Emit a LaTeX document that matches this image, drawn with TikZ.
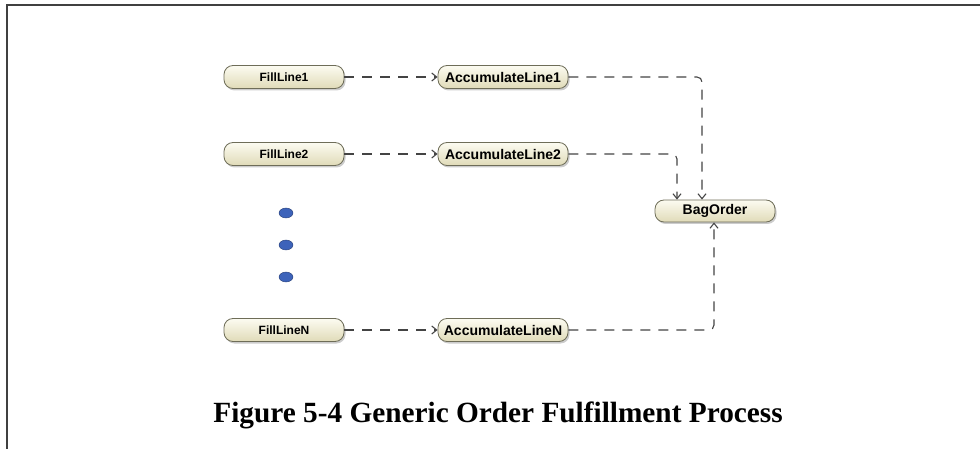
\documentclass[tikz,border=0pt]{standalone}
\usepackage{fontspec}
\setmainfont{Liberation Serif}
\setsansfont{Liberation Sans}
\usetikzlibrary{arrows.meta,shadows,shapes.geometric}

\definecolor{actline}{HTML}{6E6D58}
\definecolor{acttop}{HTML}{FCFBF1}
\definecolor{actbot}{HTML}{E0DBB8}
\definecolor{flowgray}{HTML}{444444}
\definecolor{dotblue}{HTML}{3D63BA}

\tikzset{
    action/.style={draw=actline, line width=0.8pt, rounded corners=9pt, top color=acttop, bottom color=actbot,
        drop shadow={shadow xshift=1.5pt, shadow yshift=-2pt, fill=black!40},
        minimum height=23pt, inner sep=0pt, font=\sffamily\bfseries},
    flow/.style={draw=flowgray, line width=1.1pt, dash pattern=on 10pt off 8pt,
        -{Straight Barb[length=5pt,width=8pt]}},
}

\begin{document}
\begin{tikzpicture}[x=1pt, y=-1pt]
        \useasboundingbox (0,0) rectangle (980,449);
        \draw[line width=1.3pt, black!75] (7,449) -- (7,5) -- (980,5);

        \node (f1) [action, minimum width=120pt, font=\sffamily\bfseries\fontsize{12}{14}\selectfont] at (284,77) {FillLine1};
        \node (f2) [action, minimum width=120pt, font=\sffamily\bfseries\fontsize{12}{14}\selectfont] at (284,154) {FillLine2};
        \node (fn) [action, minimum width=120pt, font=\sffamily\bfseries\fontsize{12}{14}\selectfont] at (284,330) {FillLineN};

        \node (a1) [action, minimum width=130pt, font=\sffamily\bfseries\fontsize{14}{16}\selectfont] at (503,77) {AccumulateLine1};
        \node (a2) [action, minimum width=130pt, font=\sffamily\bfseries\fontsize{14}{16}\selectfont] at (503,154) {AccumulateLine2};
        \node (an) [action, minimum width=130pt, font=\sffamily\bfseries\fontsize{14}{16}\selectfont] at (503,330) {AccumulateLineN};

        \node (bag) [action, minimum width=120pt, minimum height=22pt, font=\sffamily\bfseries\fontsize{14}{16}\selectfont] at (715,211) {BagOrder};

        % the three dots
        \foreach \y [count=\i] in {213,245,277}
            \node (dot\i) [ellipse, draw=dotblue!60!black, fill=dotblue, minimum width=14pt, minimum height=10pt, inner sep=0pt] at (286,\y) {};

        \draw[flow] (f1) -- (a1);
        \draw[flow] (f2) -- (a2);
        \draw[flow] (fn) -- (an);

        \draw[flow, rounded corners=5pt] (a1.east) -| ([xshift=-13pt]bag.north);
        \draw[flow, rounded corners=5pt] (a2.east) -| ([xshift=-38pt]bag.north);
        \draw[flow, rounded corners=5pt] (an.east) -| ([xshift=-1pt]bag.south);

        \node (title) [anchor=base, font=\bfseries\fontsize{29.3}{33}\selectfont] at (498,422) {Figure 5-4 Generic Order Fulfillment Process};
    \end{tikzpicture}
\end{document}
